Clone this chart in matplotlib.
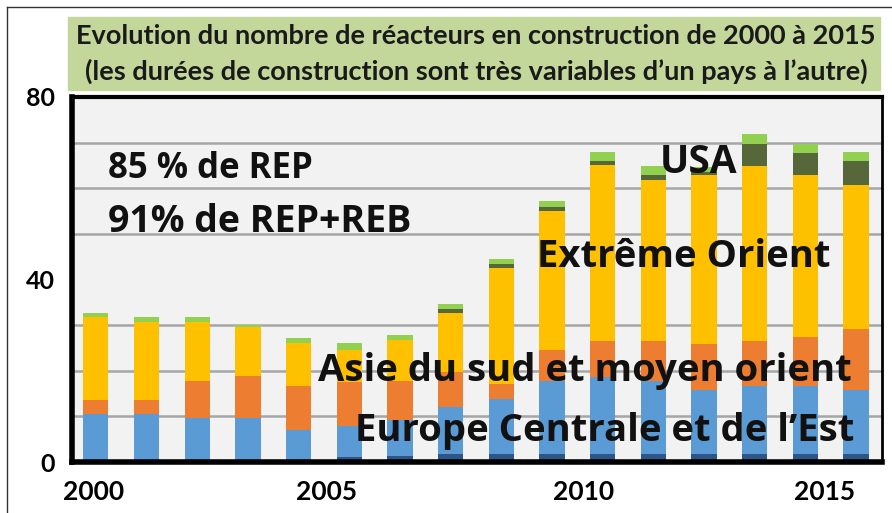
import matplotlib
matplotlib.use("Agg")
import matplotlib.pyplot as plt
from matplotlib.patches import Rectangle
from matplotlib.lines import Line2D
import numpy as np

plt.rcParams["font.family"] = ["Lato", "DejaVu Sans"]

annees = list(range(2000, 2016))
bas_fonce = [0, 0, 0, 0, 0, 1.0, 1.3, 1.7, 1.8, 1.8, 1.8, 1.7, 1.8, 1.8, 1.8, 1.8]
europe_est = [10.5, 10.5, 9.6, 9.6, 7.0, 7.0, 7.9, 10.3, 12.0, 16.0, 16.9, 16.1, 14.0, 14.9, 14.9, 14.0]
asie_sud = [3.1, 3.0, 8.2, 9.3, 9.7, 9.5, 8.6, 7.7, 3.2, 6.8, 7.8, 8.7, 10.1, 9.8, 10.8, 13.4]
extreme_orient = [18.2, 17.1, 12.9, 10.6, 9.4, 7.1, 9.0, 13.0, 25.6, 30.5, 38.5, 35.2, 37.0, 38.3, 35.3, 31.6]
usa = [0, 0, 0, 0, 0, 0, 0, 0.9, 0.9, 0.8, 0.9, 1.1, 0.6, 4.8, 5.0, 5.1]
autres = [0.9, 1.1, 1.1, 0.5, 1.1, 1.5, 1.0, 1.1, 1.0, 1.4, 2.0, 2.0, 1.2, 2.4, 1.8, 2.0]

series = [bas_fonce, europe_est, asie_sud, extreme_orient, usa, autres]
couleurs = ["#2f5486", "#5b9bd5", "#ed7d31", "#ffc000", "#56683a", "#92d050"]

xtick_pos = [-0.04, 4.56, 9.63, 14.37]
xtick_lab = ["2000", "2005", "2010", "2015"]

W, H = 892, 513
fig = plt.figure(figsize=(W / 100, H / 100), dpi=100)
ax = fig.add_axes([72 / W, 1 - 462 / H, (882 - 72) / W, (462 - 97) / H])
ax.set_facecolor("#f2f2f2")

x = np.arange(len(annees))
bottom = np.zeros(len(annees))
for vals, c in zip(series, couleurs):
    ax.bar(x, vals, width=0.5, bottom=bottom, color=c, zorder=2)
    bottom += np.array(vals)

ax.set_xlim(-0.47, 15.51)
ax.set_ylim(0, 80)
ax.set_yticks([0, 40, 80])
ax.set_yticklabels(["0", "40", "80"], fontsize=18, fontweight="bold")
ax.set_yticks(range(10, 80, 10), minor=True)
ax.grid(which="minor", axis="y", color="#a6a6a6", lw=1.8, zorder=0)
ax.tick_params(axis="y", which="both", length=0, pad=12)
ax.set_xticks(xtick_pos)
ax.set_xticklabels(xtick_lab, fontsize=19, fontweight="bold")
ax.tick_params(axis="x", length=0, pad=13)

for side, lw in (("left", 4), ("bottom", 4), ("top", 3), ("right", 2)):
    ax.spines[side].set_linewidth(lw)
    ax.spines[side].set_color("black")

# libellés
kw = dict(fontweight="bold", family=["Open Sans", "DejaVu Sans"],
          color="#111111", va="baseline", zorder=5)
ax.text(0.24, 62.3, "85 % de REP", fontsize=25, **kw)
ax.text(0.24, 50.4, "91% de REP+REB", fontsize=27, **kw)
ax.text(11.13, 63.4, "USA", fontsize=28, **kw)
ax.text(8.7, 42.7, "Extrême Orient", fontsize=27.5, **kw)
ax.text(4.38, 17.8, "Asie du sud et moyen orient", fontsize=27.5, **kw)
ax.text(5.11, 4.6, "Europe Centrale et de l\u2019Est", fontsize=27.5, **kw)

# titre
fig.patches.append(Rectangle((68 / W, 1 - 90 / H), (880 - 68) / W, (90 - 17) / H,
                             transform=fig.transFigure, color="#c4d79b", zorder=0))
fig.text(476 / W, 1 - 36 / H, "Evolution du nombre de réacteurs en construction de 2000 à 2015",
         ha="center", va="center", fontsize=19.5, fontweight="bold", color="#1a1a1a")
fig.text(476 / W, 1 - 71 / H, "(les durées de construction sont très variables d\u2019un pays à l\u2019autre)",
         ha="center", va="center", fontsize=19.5, fontweight="bold", color="#1a1a1a")

# cadre
fig.lines.append(Line2D([7 / W, 7 / W], [0, 1 - 7 / H], transform=fig.transFigure, color="#333333", lw=1))
fig.lines.append(Line2D([7 / W, 1], [1 - 7 / H, 1 - 7 / H], transform=fig.transFigure, color="#333333", lw=1))

fig.savefig("out.png", dpi=100)
